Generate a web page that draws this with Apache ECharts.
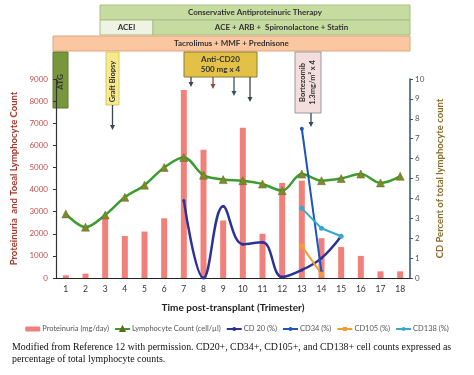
<!DOCTYPE html>
<html>
<head>
<meta charset="utf-8">
<script src="https://cdn.jsdelivr.net/npm/echarts@6/dist/echarts.min.js"></script>
<style>
  html, body { margin: 0; padding: 0; background: #fff; }
  #chart { width: 474px; height: 375px; }
</style>
</head>
<body>
<div id="chart"></div>
<script>
// data
const trimesters = ['1','2','3','4','5','6','7','8','9','10','11','12','13','14','15','16','17','18'];
const proteinuria = [120, 200, 2700, 1900, 2100, 2700, 8500, 5800, 2600, 6800, 2000, 4300, 4400, 1800, 1400, 1000, 300, 300];
const lymphocytes = [2900, 2300, 2850, 3650, 4200, 5000, 5450, 4650, 4450, 4400, 4250, 3950, 4700, 4400, 4500, 4700, 4300, 4600];
const cd20 = [null, null, null, null, null, null, 3.9, 0, 3.6, 1.7, 1.8, 0.05, 0.4, 1.0, 2.1, null, null, null];
const cd34 = [null, null, null, null, null, null, null, null, null, null, null, null, 7.5, 0.3, null, null, null, null];
const cd105 = [null, null, null, null, null, null, null, null, null, null, null, null, 1.6, 0.2, null, null, null, null];
const cd138 = [null, null, null, null, null, null, null, null, null, null, null, null, 3.5, 2.5, 2.1, null, null, null];
const leftTicks = { min: 0, max: 9000, interval: 1000 };
const rightTicks = { min: 0, max: 10, interval: 1 };

const FONT = 'Lato';

// 顶部治疗方案标注框（装饰，非数据）
function box(x, y, w, h, fill, stroke, text, opts) {
  opts = opts || {};
  return {
    type: 'group',
    children: [
      { type: 'rect', shape: { x: x, y: y, width: w, height: h },
        style: { fill: fill, stroke: stroke, lineWidth: 1 } },
      { type: 'text', x: x + w / 2 + (opts.dx || 0), y: y + h / 2 + (opts.dy || 0), rotation: opts.rot || 0,
        style: { text: text, fill: '#333', font: 'bold ' + (opts.size || 8) + 'px ' + FONT,
                 align: 'center', verticalAlign: 'middle', lineHeight: opts.lh || 11 } }
    ]
  };
}

function arrow(x, y1, y2, color) {
  return {
    type: 'group',
    children: [
      { type: 'line', shape: { x1: x, y1: y1, x2: x, y2: y2 - 4 },
        style: { stroke: color, lineWidth: 1.3 } },
      { type: 'polygon', shape: { points: [[x - 2.5, y2 - 5], [x + 2.5, y2 - 5], [x, y2]] },
        style: { fill: color } }
    ]
  };
}

const chart = echarts.init(document.getElementById('chart'));

const option = {
  animation: false,
  textStyle: { fontFamily: FONT },
  grid: { left: 56, right: 64, top: 79, bottom: 97 },
  legend: {
    top: 320,
    left: 'center',
    width: 470,
    itemWidth: 15,
    itemHeight: 5,
    itemGap: 5,
    textStyle: { fontSize: 7.5, color: '#555', fontFamily: FONT, padding: [0, 0, 0, -3] },
    data: ['Proteinuria (mg/day)', 'Lymphocyte Count (cell/µl)', 'CD 20 (%)', 'CD34 (%)', 'CD105 (%)', 'CD138 (%)']
  },
  xAxis: {
    type: 'category',
    data: trimesters,
    name: 'Time post-transplant (Trimester)',
    nameLocation: 'middle',
    nameGap: 25,
    nameTextStyle: { fontWeight: 'bold', fontSize: 10, color: '#222' },
    axisLine: { lineStyle: { color: '#222', width: 1.2 } },
    axisTick: { length: 3, lineStyle: { color: '#222' } },
    axisLabel: { fontSize: 8.5, color: '#333', margin: 7 }
  },
  yAxis: [
    {
      type: 'value',
      min: leftTicks.min, max: leftTicks.max, interval: leftTicks.interval,
      name: 'Proteinuria  and Toeal Lymphocyte Count',
      nameLocation: 'middle',
      nameGap: 31,
      nameTextStyle: { fontWeight: 'bold', fontSize: 9.5, color: '#a8392e' },
      axisLine: { show: true, lineStyle: { color: '#333', width: 1.2 } },
      axisTick: { show: true, length: 3, lineStyle: { color: '#333' } },
      axisLabel: { fontSize: 8, color: '#c0504d', margin: 8, formatter: v => String(v) },
      splitLine: { show: false }
    },
    {
      type: 'value',
      position: 'right',
      min: rightTicks.min, max: rightTicks.max, interval: rightTicks.interval,
      name: 'CD Percent of total lymphocyte count',
      nameLocation: 'middle',
      nameGap: 23,
      nameRotate: 90,
      nameTextStyle: { fontWeight: 'bold', fontSize: 9.5, color: '#8a6a2a' },
      axisLine: { show: true, lineStyle: { color: '#35566a', width: 1.5 } },
      axisTick: { show: true, length: 3, lineStyle: { color: '#35566a' } },
      axisLabel: { fontSize: 8, color: '#555', margin: 5 },
      splitLine: { show: false }
    }
  ],
  series: [
    {
      name: 'Proteinuria (mg/day)',
      type: 'bar',
      data: proteinuria,
      barWidth: 6,
      itemStyle: { color: '#f2807a' }
    },
    {
      name: 'Lymphocyte Count (cell/µl)',
      type: 'line',
      data: lymphocytes,
      smooth: 0.35,
      symbol: 'triangle',
      symbolSize: 8,
      lineStyle: { color: '#3c9c30', width: 2.5 },
      itemStyle: { color: '#7d8a2c', borderColor: '#5f6b1e', borderWidth: 0.5 }
    },
    {
      name: 'CD 20 (%)',
      type: 'line',
      yAxisIndex: 1,
      data: cd20,
      smooth: 0.4,
      symbol: 'circle',
      symbolSize: 3,
      lineStyle: { color: '#2b3394', width: 2.5 },
      itemStyle: { color: '#2b3394' }
    },
    {
      name: 'CD34 (%)',
      type: 'line',
      yAxisIndex: 1,
      data: cd34,
      symbol: 'circle',
      symbolSize: 4,
      lineStyle: { color: '#1f55b8', width: 2 },
      itemStyle: { color: '#1f55b8' }
    },
    {
      name: 'CD105 (%)',
      type: 'line',
      yAxisIndex: 1,
      data: cd105,
      symbol: 'rect',
      symbolSize: 5,
      lineStyle: { color: '#f39c33', width: 2 },
      itemStyle: { color: '#f39c33' }
    },
    {
      name: 'CD138 (%)',
      type: 'line',
      yAxisIndex: 1,
      data: cd138,
      symbol: 'circle',
      symbolSize: 5,
      lineStyle: { color: '#3ba8c9', width: 2 },
      itemStyle: { color: '#3ba8c9' }
    }
  ],
  graphic: [
    box(100, 5, 310, 15, '#c6dba0', '#a9bd85', 'Conservative Antiproteinuric Therapy'),
    box(100, 20, 53, 15, '#eef3e3', '#a9bd85', 'ACEI'),
    box(153, 20, 257, 15, '#c6dba0', '#a9bd85', 'ACE + ARB +  Spironolactone + Statin'),
    box(53, 36, 357, 15, '#fbc7a1', '#e0a57c', 'Tacrolimus + MMF + Prednisone'),
    box(53, 52, 15, 56, '#78963c', '#5e7a2a', 'ATG', { rot: Math.PI / 2, dy: 2 }),
    box(106, 52, 13, 53, '#f7e98c', '#d8c96a', 'Graft Biopsy', { rot: Math.PI / 2, size: 7.5, dy: 3 }),
    arrow(112.5, 105, 130, '#3d4550'),
    box(184, 52, 73, 25, '#e3c146', '#8c7a35', 'Anti-CD20\n500 mg x 4', { size: 8, lh: 10 }),
    arrow(191, 77, 87, '#3d4550'),
    arrow(213, 77, 89, '#8a4a44'),
    arrow(234, 77, 96, '#3d5060'),
    arrow(250, 77, 102, '#3d4550'),
    box(295, 52, 26, 61, '#f3dedd', '#9a9a9a', 'Bortezomib\n1.3mg/m² x 4', { rot: Math.PI / 2, size: 7.5, lh: 10 }),
    arrow(311, 113, 127, '#3d4550'),
    {
      type: 'text',
      left: 12,
      top: 342,
      style: {
        text: 'Modified from Reference 12 with permission. CD20+, CD34+, CD105+, and CD138+ cell counts expressed as\npercentage of total lymphocyte counts.',
        font: '9.9px "Liberation Serif"',
        fill: '#111',
        lineHeight: 11.5
      }
    }
  ]
};

chart.setOption(option);
</script>
</body>
</html>
